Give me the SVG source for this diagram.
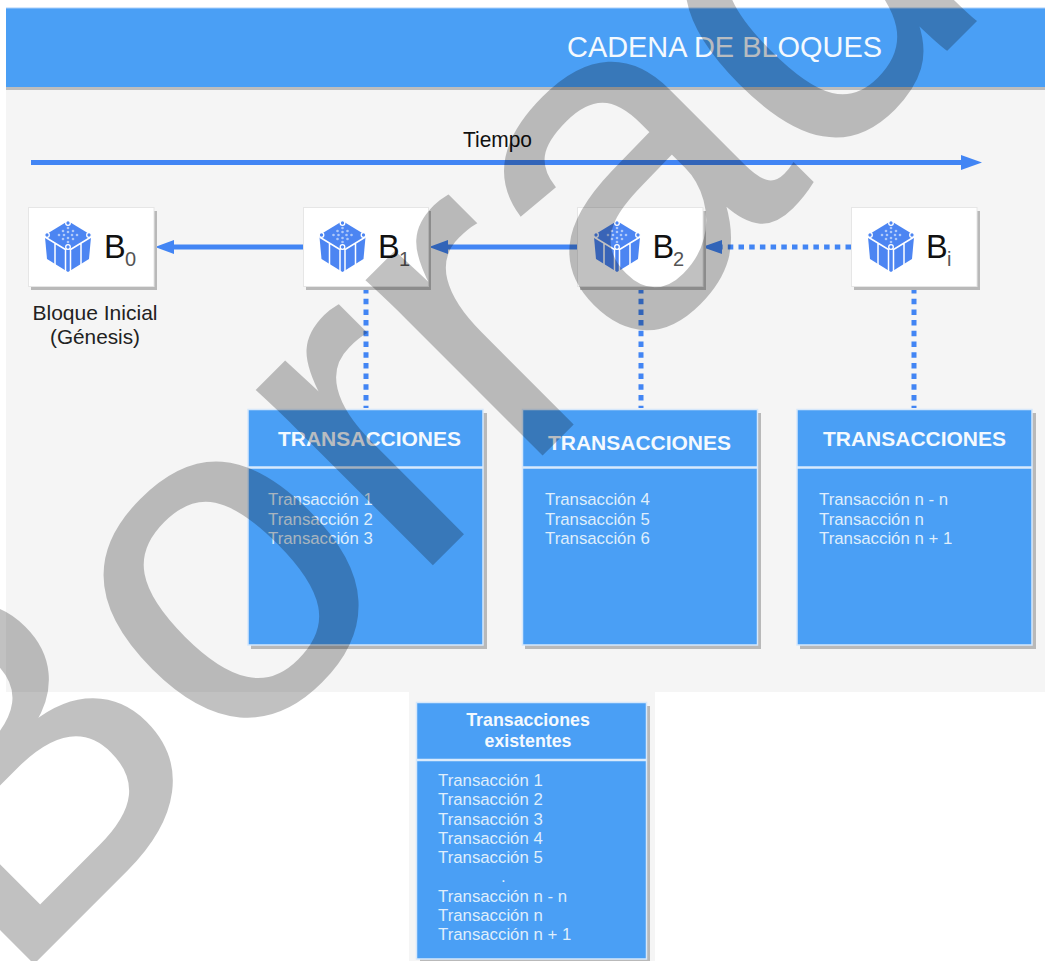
<svg xmlns="http://www.w3.org/2000/svg" width="1045" height="961" viewBox="0 0 1045 961">
<style>
text{font-family:"Liberation Sans",Arial,sans-serif}
.sh{fill:#b9b9b9}
.card{fill:#fff;stroke:#e6e6e6;stroke-width:1}
.box{fill:#4a9ff5;stroke:#d6e8fb;stroke-width:1.5}
.sep{stroke:#d9eafc;stroke-width:2.5;fill:none}
.tt{font-weight:bold;fill:#f4f9fe}
.li{font-size:16.8px;fill:#dfeefc}
.bl{font-size:32.500px;fill:#111}
.sub{font-size:20px;fill:#555}
.ln{stroke:#4285f4;stroke-width:5;fill:none}
.dot{stroke:#4285f4;stroke-width:5;fill:none;stroke-dasharray:5.5 5.2}
.hd{fill:#4285f4}
.ic{fill:#4c85f2}
.wl{stroke:#fff;stroke-width:1.500;fill:none}
.ict{fill:#fff;opacity:.55}
</style>
<defs>
<g id="cube">
<path class="ic" d="M24 1L47 15V17L45 39L24 52L3 39L1 17V15z"/>
<path class="wl" d="M1 17L21.500 29.500V51M47 17L26.500 29.500V51M11 23V45M37 23V45M21.500 29.500Q24 27 26.500 29.500"/>
<g fill="#4c85f2" stroke="#fff" stroke-width="1.300"><circle cx="24" cy="3" r="2.300"/><circle cx="3" cy="15" r="2.300"/><circle cx="45" cy="15" r="2.300"/><circle cx="24" cy="27" r="2.300"/></g>
<g class="ict"><circle cx="24" cy="8" r="1.300"/><circle cx="19" cy="11" r="1.300"/><circle cx="29" cy="11" r="1.300"/><circle cx="24" cy="12" r="1.300"/><circle cx="15" cy="15" r="1.300"/><circle cx="20" cy="15" r="1.300"/><circle cx="28" cy="15" r="1.300"/><circle cx="33" cy="15" r="1.300"/><circle cx="24" cy="18" r="1.300"/><circle cx="19" cy="19" r="1.300"/><circle cx="29" cy="19" r="1.300"/><circle cx="24" cy="22" r="1.300"/></g>
</g>
</defs>
<rect width="1045" height="961" fill="#fff"/>
<g id="panel">
<rect x="6" y="88" width="1039" height="604" fill="#f5f5f5"/>
<rect x="409" y="692" width="246" height="269" fill="#f5f5f5"/>
</g>
<g id="header">
<rect x="6" y="87" width="1039" height="3" fill="#bdbdbd"/>
<rect x="6" y="8" width="1039" height="79" fill="#4a9ff5"/>
<rect x="6" y="7.500" width="1039" height="1" fill="#a9d0f9"/>
<text x="567" y="57" font-size="29" fill="#f4f9fe" textLength="315" lengthAdjust="spacingAndGlyphs">CADENA DE BLOQUES</text>
</g>
<g id="connectors">
<path class="ln" d="M31 162.500H964"/>
<path class="hd" d="M982 162.500l-21-7.500v15z"/>
<path class="ln" d="M303 247H172"/>
<path class="hd" d="M155 247l19-7v14z"/>
<path class="ln" d="M577 247H446"/>
<path class="hd" d="M429 247l19-7v14z"/>
<path class="dot" d="M851 247H720"/>
<path class="hd" d="M702 247l20-7v14z"/>
<path class="dot" d="M366 288V408"/>
<path class="dot" d="M641 288V408"/>
<path class="dot" d="M914 288V408"/>
</g>
<g id="tiempo"><text x="463" y="147" font-size="22" fill="#111" textLength="69" lengthAdjust="spacingAndGlyphs">Tiempo</text></g>
<g id="b0">
<rect class="sh" x="31" y="211" width="126" height="79"/><rect class="card" x="28.500" y="207.500" width="125.500" height="79"/>
<use href="#cube" x="44" y="220"/>
<text class="bl" x="104" y="258">B</text><text class="sub" x="125" y="266">0</text>
<text x="95" y="320" font-size="21" fill="#222" text-anchor="middle" textLength="125" lengthAdjust="spacingAndGlyphs">Bloque Inicial</text>
<text x="95" y="344" font-size="21" fill="#222" text-anchor="middle" textLength="90" lengthAdjust="spacingAndGlyphs">(Génesis)</text>
</g>
<g id="b1">
<rect class="sh" x="306" y="211" width="125" height="79"/><rect class="card" x="303.500" y="207.500" width="125" height="79"/>
<use href="#cube" x="318.500" y="220"/>
<text class="bl" x="378" y="258">B</text><text class="sub" x="399" y="266">1</text>
</g>
<g id="b2">
<rect class="sh" x="580" y="211" width="126" height="79"/><rect class="card" x="577.500" y="207.500" width="125.500" height="79"/>
<use href="#cube" x="593" y="220"/>
<text class="bl" x="652.500" y="258">B</text><text class="sub" x="673" y="266">2</text>
</g>
<g id="bi">
<rect class="sh" x="854" y="211" width="126" height="79"/><rect class="card" x="851.500" y="207.500" width="125.500" height="79"/>
<use href="#cube" x="867" y="220"/>
<text class="bl" x="926" y="258">B</text><text class="sub" x="947" y="266">i</text>
</g>
<g id="tx1">
<rect class="sh" x="251" y="413" width="236" height="236"/><rect class="box" x="248" y="409.500" width="235" height="235.500"/>
<path class="sep" d="M248 467.500H483"/>
<text class="tt" x="278" y="446" font-size="21" textLength="183" lengthAdjust="spacingAndGlyphs">TRANSACCIONES</text>
<text class="li" x="268" y="505">Transacción 1</text><text class="li" x="268" y="524.500">Transacción 2</text><text class="li" x="268" y="544">Transacción 3</text>
</g>
<g id="tx2">
<rect class="sh" x="525" y="413" width="236" height="236"/><rect class="box" x="522.500" y="409.500" width="235" height="235.500"/>
<path class="sep" d="M522 467.500H757"/>
<text class="tt" x="548" y="450" font-size="21" textLength="183" lengthAdjust="spacingAndGlyphs">TRANSACCIONES</text>
<text class="li" x="545" y="505">Transacción 4</text><text class="li" x="545" y="524.500">Transacción 5</text><text class="li" x="545" y="544">Transacción 6</text>
</g>
<g id="tx3">
<rect class="sh" x="800" y="413" width="236" height="236"/><rect class="box" x="797" y="409.500" width="235" height="235.500"/>
<path class="sep" d="M797 467.500H1032"/>
<text class="tt" x="823" y="446" font-size="21" textLength="183" lengthAdjust="spacingAndGlyphs">TRANSACCIONES</text>
<text class="li" x="819" y="505">Transacción n - n</text><text class="li" x="819" y="524.500">Transacción n</text><text class="li" x="819" y="544">Transacción n + 1</text>
</g>
<g id="existentes">
<rect class="sh" x="420" y="706" width="230" height="256"/><rect class="box" x="416.500" y="702.500" width="230" height="256.500"/>
<path class="sep" d="M417 760H647"/>
<text class="tt" x="528" y="726" font-size="17.800" text-anchor="middle">Transacciones</text>
<text class="tt" x="528" y="747" font-size="17.800" text-anchor="middle">existentes</text>
<text class="li" x="438" y="786">Transacción 1</text><text class="li" x="438" y="805">Transacción 2</text><text class="li" x="438" y="824.500">Transacción 3</text><text class="li" x="438" y="844">Transacción 4</text><text class="li" x="438" y="863">Transacción 5</text><text class="li" x="501" y="882">.</text><text class="li" x="438" y="902">Transacción n - n</text><text class="li" x="438" y="921">Transacción n</text><text class="li" x="438" y="940">Transacción n + 1</text>
</g>
<g id="watermark"><text transform="translate(7 989) rotate(-45)" font-size="466" fill="#000" stroke="#000" stroke-width="3" opacity=".24">Borrador</text></g>
</svg>
